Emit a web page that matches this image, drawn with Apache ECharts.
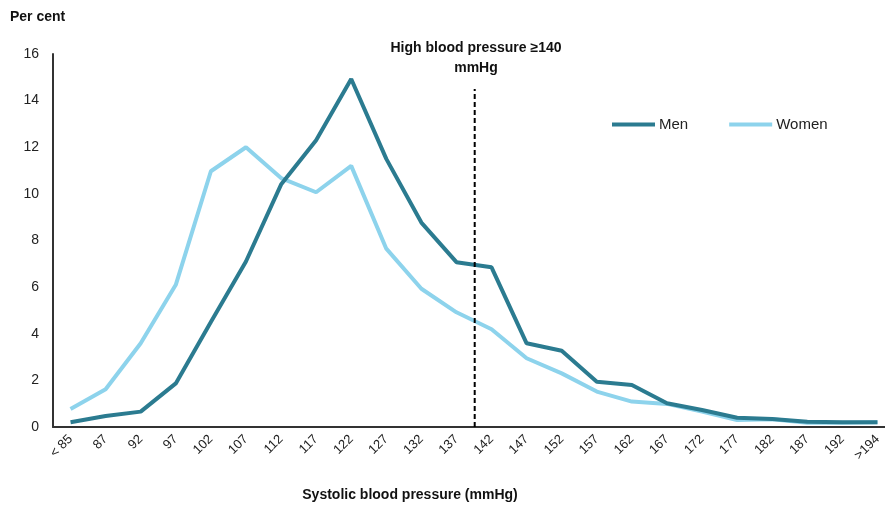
<!DOCTYPE html>
<html>
<head>
<meta charset="utf-8">
<script src="https://cdn.jsdelivr.net/npm/echarts@6/dist/echarts.min.js"></script>
<style>
html,body{margin:0;padding:0;background:#fff;overflow:hidden;}
#wrap{width:885px;height:508px;overflow:hidden;}
#chart{width:895px;height:508px;}
</style>
</head>
<body>
<div id="wrap"><div id="chart"></div></div>
<script>
var categories = ['< 85','87','92','97','102','107','112','117','122','127','132','137','142','147','152','157','162','167','172','177','182','187','192','>194'];
var men =   [0.2,0.47,0.66,1.87,4.5,7.1,10.4,12.3,14.93,11.5,8.77,7.07,6.85,3.59,3.27,1.94,1.80,1.02,0.73,0.40,0.34,0.23,0.2,0.2];
var women = [0.77,1.62,3.59,6.1,10.97,12.0,10.68,10.07,11.2,7.65,5.93,4.92,4.19,2.95,2.30,1.52,1.09,0.99,0.66,0.30,0.33,0.18,0.18,0.2];
var yTicks = [0,2,4,6,8,10,12,14,16];
// threshold (140 mmHg) expressed as a position along the category index
var thresholdPos = 11.52;
var thresholdTop = 14.5;

var FONT = 'Liberation Sans, Arial, sans-serif';
var chart = echarts.init(document.getElementById('chart'));
chart.setOption({
  backgroundColor: '#ffffff',
  animation: false,
  textStyle: {fontFamily: FONT},
  grid: {left: 53, top: 54, right: 0, bottom: 81, containLabel: false},
  legend: {
    data: ['Men', 'Women'],
    left: 607, top: 112,
    icon: 'rect',
    itemWidth: 43, itemHeight: 4, itemGap: 41,
    textStyle: {fontSize: 15, color: '#222', fontFamily: FONT, padding: [0,0,0,-1]}
  },
  graphic: [
    {type: 'text', left: 10, top: 10, style: {text: 'Per cent', font: 'bold 14px ' + FONT, fill: '#111'}},
    {type: 'text', x: 410, y: 495, style: {text: 'Systolic blood pressure (mmHg)', font: 'bold 14px ' + FONT, fill: '#111', textAlign: 'center', textVerticalAlign: 'middle'}},
    {type: 'text', x: 476, y: 58, style: {text: 'High blood pressure \u2265140\nmmHg', font: 'bold 14px ' + FONT, fill: '#111', textAlign: 'center', textVerticalAlign: 'middle', lineHeight: 20}}
  ],
  xAxis: [{
    type: 'category',
    data: categories,
    boundaryGap: true,
    axisLine: {show: true, lineStyle: {color: '#333', width: 2}},
    axisTick: {show: false},
    axisLabel: {rotate: 45, fontSize: 13, color: '#222', margin: 10, interval: 0, fontFamily: FONT},
    splitLine: {show: false}
  }, {
    type: 'value',
    min: -0.5, max: 23.5,
    show: false
  }],
  yAxis: {
    type: 'value',
    min: yTicks[0], max: yTicks[yTicks.length - 1], interval: 2,
    axisLine: {show: true, onZero: false, lineStyle: {color: '#333', width: 2}},
    axisTick: {show: false},
    axisLabel: {fontSize: 14, color: '#222', margin: 14, fontFamily: FONT},
    splitLine: {show: false}
  },
  series: [
    {
      name: 'Men', type: 'line', data: men, symbol: 'none',
      lineStyle: {color: '#2b7b90', width: 4}, itemStyle: {color: '#2b7b90'}, z: 3
    },
    {
      name: 'Women', type: 'line', data: women, symbol: 'none',
      lineStyle: {color: '#8dd3ec', width: 4}, itemStyle: {color: '#8dd3ec'}, z: 2
    },
    {
      name: 'threshold', type: 'line', xAxisIndex: 1, symbol: 'none',
      data: [[thresholdPos, 0], [thresholdPos, thresholdTop]],
      lineStyle: {color: '#000', width: 2, type: [5, 3]}, z: 4, silent: true
    }
  ]
});
</script>
</body>
</html>
